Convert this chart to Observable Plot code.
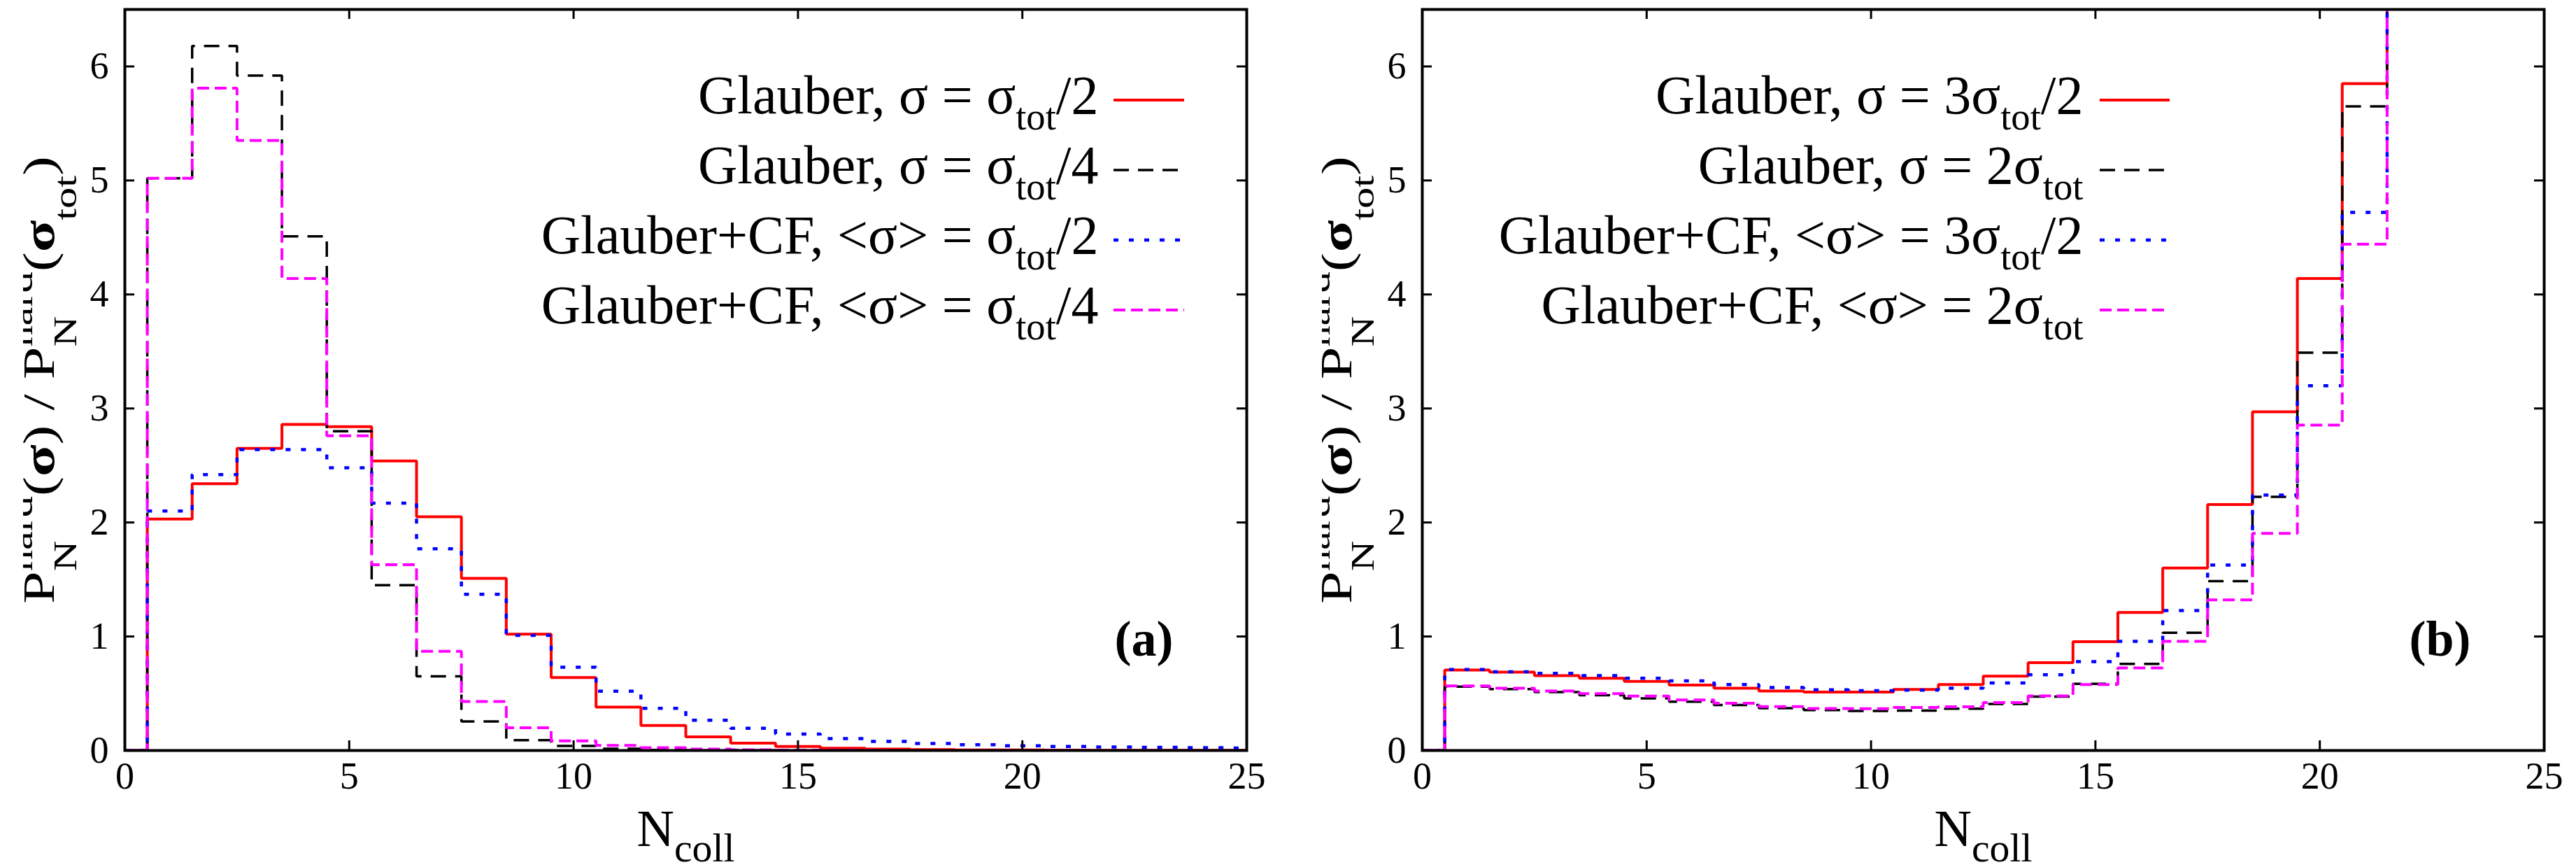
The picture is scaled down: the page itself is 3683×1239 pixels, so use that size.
<!DOCTYPE html>
<html><head><meta charset="utf-8">
<script src="https://cdn.jsdelivr.net/npm/d3@7"></script>
<script src="https://cdn.jsdelivr.net/npm/@observablehq/plot@0.6"></script>
<style>
html,body{margin:0;padding:0;background:#fff;}
#wrap{position:relative;width:3683px;height:1239px;overflow:hidden;background:#fff;}
#left{position:absolute;left:33px;top:0;width:1857px;height:1239px;}
#right{position:absolute;left:1890px;top:0;width:1793px;height:1239px;}
svg{overflow:hidden;max-width:none !important;}
svg text{font-family:"Liberation Serif","Times New Roman",serif !important;}
</style></head><body><div id="wrap"><div id="left"></div><div id="right"></div></div>
<script>
// ---------- data ----------
const xTicks = [0, 5, 10, 15, 20, 25];
const yTicks = [0, 1, 2, 3, 4, 5, 6];

// panel (a): N_coll bins
const nA = [0,1,2,3,4,5,6,7,8,9,10,11,12,13,14,15,16,17,18,19,20,21,22,23,24,25];
const aGlauberHalf    = [0,2.03,2.34,2.65,2.86,2.84,2.54,2.05,1.51,1.02,0.64,0.38,0.22,0.12,0.065,0.035,0.02,0.012,0.008,0.005,0.004,0.003,0.002,0.002,0.001,0.001];
const aGlauberQuarter = [0,5.02,6.18,5.92,4.51,2.80,1.45,0.65,0.255,0.09,0.04,0.015,0.005,0.002,0.001,0];
const aCFHalf         = [0,2.10,2.42,2.64,2.64,2.48,2.17,1.77,1.37,1.01,0.73,0.52,0.37,0.265,0.195,0.145,0.105,0.08,0.062,0.05,0.041,0.035,0.031,0.027,0.024,0.022];
const aCFQuarter      = [0,5.02,5.81,5.35,4.14,2.76,1.63,0.87,0.43,0.20,0.085,0.045,0.025,0.012,0.006,0.003,0.001,0];

// panel (b)
const nB = [0,1,2,3,4,5,6,7,8,9,10,11,12,13,14,15,16,17,18,19,20,21,22];
const bGlauber3Half = [0,0.706,0.687,0.657,0.633,0.606,0.574,0.547,0.522,0.512,0.512,0.536,0.578,0.652,0.77,0.955,1.21,1.60,2.157,2.97,4.14,5.85,8.2];
const bGlauber2     = [0,0.56,0.539,0.512,0.485,0.458,0.428,0.399,0.372,0.355,0.347,0.35,0.366,0.408,0.473,0.584,0.759,1.032,1.485,2.225,3.49,5.65,8.2];
const bCF3Half      = [0,0.71,0.69,0.676,0.657,0.633,0.611,0.579,0.552,0.533,0.525,0.53,0.546,0.592,0.665,0.78,0.957,1.227,1.627,2.24,3.2,4.72,8.2];
const bCF2          = [0,0.566,0.547,0.522,0.498,0.477,0.444,0.415,0.385,0.369,0.366,0.377,0.384,0.42,0.478,0.579,0.725,0.957,1.321,1.905,2.854,4.44,8.2];

const legendA = ["Glauber, σ = σ_{tot}/2", "Glauber, σ = σ_{tot}/4", "Glauber+CF, <σ> = σ_{tot}/2", "Glauber+CF, <σ> = σ_{tot}/4"];
const legendB = ["Glauber, σ = 3σ_{tot}/2", "Glauber, σ = 2σ_{tot}", "Glauber+CF, <σ> = 3σ_{tot}/2", "Glauber+CF, <σ> = 2σ_{tot}"];
const yLabel = "P_{N}^{hard}(*{σ}) / P_{N}^{hard}(*{σ}_{tot})";
const xLabel = "N_{coll}";

// ---------- styles ----------
const FONT = "Liberation Serif, Times New Roman, serif";
const styles = [
  {stroke: "#ff0000", strokeWidth: 4, dash: null},
  {stroke: "#000000", strokeWidth: 3.5, dash: "22,13"},
  {stroke: "#0000ff", strokeWidth: 4.5, dash: "7,15"},
  {stroke: "#ff00ff", strokeWidth: 4, dash: "17,8"}
];

const NS = "http://www.w3.org/2000/svg";
function rich(el, opts) {
  const markup = el.textContent;
  const F = parseFloat(getComputedStyle(el).fontSize);
  const {sub = 0.3, sup = 0.45, size = 0.7} = opts || {};
  const re = /([_^*])\{([^}]*)\}/g;
  const toks = []; let last = 0, m;
  while ((m = re.exec(markup))) {
    if (m.index > last) toks.push({k: "n", t: markup.slice(last, m.index)});
    toks.push({k: m[1], t: m[2]});
    last = re.lastIndex;
  }
  if (last < markup.length) toks.push({k: "n", t: markup.slice(last)});
  el.textContent = "";
  let cur = 0, prevTok = null, prevEl = null;
  for (const tk of toks) {
    const ts = document.createElementNS(NS, "tspan");
    ts.textContent = tk.t;
    let target = 0;
    if (tk.k === "_") { target = sub * F; ts.setAttribute("font-size", size * F); }
    else if (tk.k === "^") { target = -sup * F; ts.setAttribute("font-size", size * F); }
    else if (tk.k === "*") ts.setAttribute("font-weight", "bold");
    if (target !== cur) ts.setAttribute("dy", target - cur);
    cur = target;
    el.appendChild(ts);
    if (tk.k === "^" && prevTok && prevTok.k === "_") ts.setAttribute("dx", -prevEl.getComputedTextLength());
    prevTok = tk; prevEl = ts;
  }
}

function panel(cfg) {
  const H = 1239, mt = 13, mb = 167;
  const frameH = H - mt - mb;
  const frameW = cfg.width - cfg.marginLeft - cfg.marginRight;
  const marks = [];
  cfg.series.forEach((vals, k) => {
    const st = styles[k];
    const data = vals.map((v, i) => ({n: cfg.n[i], v}));
    marks.push(Plot.line(data, {x: "n", y: "v", curve: "step", stroke: st.stroke, strokeWidth: st.strokeWidth,
      strokeDasharray: st.dash, strokeLinejoin: "miter", strokeLinecap: "butt", clip: true}));
  });
  marks.push(
    Plot.tickX(xTicks, {x: d => d, insetTop: frameH - 14, strokeWidth: 3}),
    Plot.tickX(xTicks, {x: d => d, insetBottom: frameH - 14, strokeWidth: 3}),
    Plot.tickY(yTicks, {y: d => d, insetRight: frameW - 14, strokeWidth: 3}),
    Plot.tickY(yTicks, {y: d => d, insetLeft: frameW - 14, strokeWidth: 3}),
    Plot.axisX(xTicks, {tickSize: 0, tickPadding: 16, fontSize: 54, fontFamily: FONT, label: null, tickFormat: d => String(d)}),
    Plot.axisY(yTicks, {tickSize: 0, tickPadding: 23, fontSize: 54, fontFamily: FONT, label: null, tickFormat: d => String(d)}),
    Plot.frame({strokeWidth: 4}),
    Plot.text([yLabel], {text: d => d, frameAnchor: "left", rotate: -90, dx: -102, lineAnchor: "bottom", textAnchor: "middle", fontSize: 64, fontFamily: FONT}),
    Plot.text([xLabel], {text: d => d, frameAnchor: "bottom", dy: 136, lineAnchor: "bottom", textAnchor: "middle", fontSize: 74, fontFamily: FONT}),
    Plot.text([cfg.tag], {text: d => d, frameAnchor: "bottom-right", dx: -105, dy: -136, lineAnchor: "bottom", textAnchor: "end", fontSize: 72, fontWeight: "bold", fontFamily: FONT}),
    ...cfg.legend.map((t, i) => Plot.text([t], {text: d => d, frameAnchor: "top-right", dx: cfg.legendDx, dy: 148 + 100 * i, lineAnchor: "bottom", textAnchor: "end", fontSize: 78, fontFamily: FONT}))
  );
  const svg = Plot.plot({
    width: cfg.width, height: H,
    marginTop: mt, marginBottom: mb, marginLeft: cfg.marginLeft, marginRight: cfg.marginRight,
    x: {domain: [0, 25]}, y: {domain: [0, 6.5]},
    style: {fontFamily: FONT, background: "white", overflow: "hidden", color: "black"},
    marks
  });
  document.getElementById(cfg.id).appendChild(svg);
  svg.querySelectorAll("text").forEach(el => {
    const t = el.textContent;
    if (!/[_^*]\{/.test(t)) return;
    if (t === yLabel) {
      rich(el, {sub: 0.5, sup: 0.47, size: 0.72});
      el.setAttribute("textLength", 640);
      el.setAttribute("lengthAdjust", "spacingAndGlyphs");
    } else if (t === xLabel) {
      rich(el, {sub: 0.3, size: 0.78});
    } else {
      rich(el, {sub: 0.3, size: 0.7});
    }
  });
  // legend swatches
  const fr = cfg.width - cfg.marginRight;
  const g = document.createElementNS(NS, "g");
  cfg.legend.forEach((t, i) => {
    const st = styles[i];
    const ln = document.createElementNS(NS, "line");
    const y = mt + 148 + 100 * i - 18;
    ln.setAttribute("x1", fr + cfg.swatch[0]);
    ln.setAttribute("x2", fr + cfg.swatch[1]);
    ln.setAttribute("y1", y); ln.setAttribute("y2", y);
    ln.setAttribute("stroke", st.stroke);
    ln.setAttribute("stroke-width", st.strokeWidth);
    if (st.dash) ln.setAttribute("stroke-dasharray", st.dash);
    g.appendChild(ln);
  });
  svg.appendChild(g);
}

panel({id: "left", width: 1857, marginLeft: 145, marginRight: 108, n: nA,
  series: [aGlauberHalf, aGlauberQuarter, aCFHalf, aCFQuarter], legend: legendA, legendDx: -212, swatch: [-190, -89], tag: "(a)"});
panel({id: "right", width: 1793, marginLeft: 143, marginRight: 46, n: nB,
  series: [bGlauber3Half, bGlauber2, bCF3Half, bCF2], legend: legendB, legendDx: -659, swatch: [-635, -535], tag: "(b)"});
</script></body></html>
